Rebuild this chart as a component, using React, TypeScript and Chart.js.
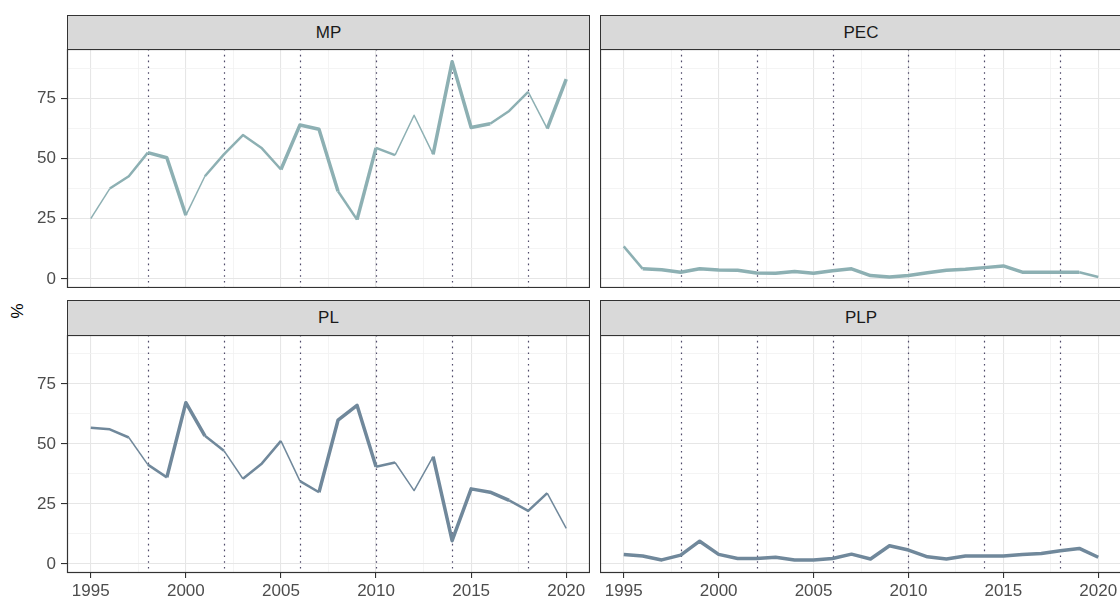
import React, { useEffect, useRef } from "react";
import { Chart, registerables } from "chart.js";

Chart.register(...registerables);

// ---------------- data ----------------
const years = [1995, 1996, 1997, 1998, 1999, 2000, 2001, 2002, 2003, 2004, 2005, 2006, 2007, 2008, 2009, 2010, 2011, 2012, 2013, 2014, 2015, 2016, 2017, 2018, 2019, 2020];

const mpValues = [25.0, 37.5, 42.6, 52.4, 50.3, 26.4, 42.6, 51.7, 59.7, 54.2, 45.4, 63.9, 62.1, 36.4, 24.6, 54.4, 51.4, 67.9, 51.7, 90.1, 62.8, 64.4, 69.7, 77.6, 62.4, 82.9];
const pecValues = [13.5, 4.2, 3.8, 2.8, 4.2, 3.7, 3.6, 2.5, 2.4, 3.1, 2.4, 3.4, 4.2, 1.4, 0.8, 1.4, 2.6, 3.6, 4.0, 4.7, 5.4, 2.8, 2.8, 2.8, 2.8, 0.8];
const plValues = [56.8, 56.1, 52.7, 41.4, 36.1, 67.2, 53.4, 47.2, 35.5, 41.9, 51.3, 34.5, 29.9, 59.9, 66.1, 40.5, 42.3, 30.6, 44.7, 9.7, 31.3, 29.9, 26.5, 22.1, 29.5, 14.8];
const plpValues = [4.0, 3.3, 1.7, 3.7, 9.5, 4.0, 2.3, 2.3, 2.8, 1.7, 1.7, 2.3, 4.1, 2.1, 7.6, 5.8, 3.0, 2.1, 3.3, 3.3, 3.3, 4.0, 4.4, 5.5, 6.5, 2.8];

// size aesthetic (1 = small, 2 = medium, 3 = large), one per starting year of a segment
const mpWeight = [1, 2, 2, 3, 3, 1, 2, 2, 2, 2, 3, 3, 3, 2, 3, 2, 1, 1, 3, 3, 3, 2, 2, 1, 3, 3];
const pecWeight = [2, 3, 3, 3, 3, 3, 3, 3, 3, 3, 3, 3, 3, 3, 3, 3, 3, 3, 3, 3, 3, 3, 3, 3, 2, 2];
const plWeight = [2, 2, 1, 2, 3, 3, 2, 1, 2, 2, 1, 2, 3, 3, 3, 2, 1, 1, 3, 3, 3, 3, 2, 2, 1, 1];
const plpWeight = [3, 3, 3, 3, 3, 3, 3, 3, 3, 3, 3, 3, 3, 3, 3, 3, 3, 3, 3, 3, 3, 3, 3, 3, 3, 3];

const electionYears = [1998, 2002, 2006, 2010, 2014, 2018];

const yTickValues = [0, 25, 50, 75];
const yTickLabels = ["0", "25", "50", "75"];
const xTickValues = [1995, 2000, 2005, 2010, 2015, 2020];
const xTickLabels = ["1995", "2000", "2005", "2010", "2015", "2020"];

const panelNames = ["MP", "PEC", "PL", "PLP"];
const yAxisTitle = "%";

// ---------------- styling ----------------
const FONT = '"Liberation Sans", Arial, sans-serif';
const X_MIN = 1993.75;
const X_MAX = 2021.25;
const Y_MIN = -3.75;
const Y_MAX = 95.4;
const COLOR_LIGHT = "#8DB0B3";
const COLOR_DARK = "#70889B";
const widthMap: Record<number, number> = { 1: 1.5, 2: 2.5, 3: 3.5 };

function withMinor(major: number[], lo: number, hi: number) {
  const step = major[1] - major[0];
  const out: { value: number; major: boolean }[] = [];
  const first = major[0] - step / 2;
  for (let v = first; v <= hi + 1e-9; v += step / 2) {
    if (v < lo - 1e-9) continue;
    const isMajor = major.some((m) => Math.abs(m - v) < 1e-6);
    out.push({ value: v, major: isMajor });
  }
  return out;
}

const yAll = withMinor(yTickValues, Y_MIN, Y_MAX);
const xAll = withMinor(xTickValues, X_MIN, X_MAX);

function isMajorVal(list: number[], v: number) {
  return list.some((m) => Math.abs(m - v) < 1e-6);
}

const framePlugin = {
  id: "frame",
  beforeDatasetsDraw(chart: any) {
    const { ctx, chartArea, scales } = chart;
    ctx.save();
    ctx.beginPath();
    ctx.rect(chartArea.left, chartArea.top, chartArea.right - chartArea.left, chartArea.bottom - chartArea.top);
    ctx.clip();
    ctx.strokeStyle = "#4F4A6A";
    ctx.lineWidth = 1.2;
    ctx.setLineDash([1.6, 4.2]);
    electionYears.forEach((yr) => {
      const px = Math.round(scales.x.getPixelForValue(yr)) + 0.5;
      ctx.beginPath();
      ctx.moveTo(px, chartArea.top);
      ctx.lineTo(px, chartArea.bottom);
      ctx.stroke();
    });
    ctx.restore();
  },
  afterDraw(chart: any) {
    const { ctx, chartArea } = chart;
    ctx.save();
    ctx.strokeStyle = "#333333";
    ctx.lineWidth = 1.2;
    ctx.strokeRect(chartArea.left + 0.5, chartArea.top + 0.5, chartArea.right - chartArea.left - 1, chartArea.bottom - chartArea.top - 1);
    ctx.restore();
  },
};

type PanelProps = {
  values: number[];
  weights: number[];
  color: string;
  showY: boolean;
  showX: boolean;
  left: number;
  top: number;
  width: number;
  height: number;
};

function zeroPad(s: any) {
  s.paddingTop = 0;
  s.paddingBottom = 0;
  s.paddingLeft = 0;
  s.paddingRight = 0;
}

function Panel({ values, weights, color, showY, showX, left, top, width, height }: PanelProps) {
  const ref = useRef<HTMLCanvasElement>(null);
  useEffect(() => {
    if (!ref.current) return;
    const chart = new Chart(ref.current, {
      type: "line",
      data: {
        datasets: [
          {
            data: years.map((yr, i) => ({ x: yr, y: values[i] })),
            borderColor: color,
            backgroundColor: color,
            borderWidth: 2.5,
            pointRadius: 0,
            borderJoinStyle: "round",
            borderCapStyle: "butt",
            tension: 0,
            segment: {
              borderWidth: (ctx: any) => widthMap[weights[ctx.p0DataIndex]] ?? 2.5,
            },
          } as any,
        ],
      },
      options: {
        animation: false,
        responsive: false,
        maintainAspectRatio: false,
        events: [],
        layout: { padding: 0 },
        plugins: { legend: { display: false }, tooltip: { enabled: false }, title: { display: false } },
        scales: {
          x: {
            type: "linear",
            min: X_MIN,
            max: X_MAX,
            afterBuildTicks: (s: any) => {
              s.ticks = xAll.map((t) => ({ value: t.value }));
            },
            afterFit: (s: any) => {
              s.height = showX ? 28 : 0;
              zeroPad(s);
            },
            ticks: {
              display: showX,
              autoSkip: false,
              maxRotation: 0,
              minRotation: 0,
              padding: 3,
              color: "#4D4D4D",
              font: { family: FONT, size: 17 },
              callback: (v: any) => {
                const i = xTickValues.findIndex((m) => Math.abs(m - Number(v)) < 1e-6);
                return i >= 0 ? xTickLabels[i] : "";
              },
            },
            grid: {
              drawTicks: showX,
              tickLength: 5,
              color: (c: any) => (isMajorVal(xTickValues, c.tick?.value) ? "#E6E6E6" : "#F1F1F1"),
              lineWidth: (c: any) => (isMajorVal(xTickValues, c.tick?.value) ? 1.1 : 0.8),
              tickColor: (c: any) => (isMajorVal(xTickValues, c.tick?.value) ? "#333333" : "rgba(0,0,0,0)"),
              tickWidth: 1.1,
            },
            border: { display: false },
          },
          y: {
            type: "linear",
            min: Y_MIN,
            max: Y_MAX,
            afterBuildTicks: (s: any) => {
              s.ticks = yAll.map((t) => ({ value: t.value }));
            },
            afterFit: (s: any) => {
              s.width = showY ? 67 : 0;
              zeroPad(s);
            },
            ticks: {
              display: showY,
              autoSkip: false,
              padding: 5,
              color: "#4D4D4D",
              font: { family: FONT, size: 17 },
              callback: (v: any) => {
                const i = yTickValues.findIndex((m) => Math.abs(m - Number(v)) < 1e-6);
                return i >= 0 ? yTickLabels[i] : "";
              },
            },
            grid: {
              drawTicks: showY,
              tickLength: 6,
              color: (c: any) => (isMajorVal(yTickValues, c.tick?.value) ? "#E6E6E6" : "#F1F1F1"),
              lineWidth: (c: any) => (isMajorVal(yTickValues, c.tick?.value) ? 1.1 : 0.8),
              tickColor: (c: any) => (isMajorVal(yTickValues, c.tick?.value) ? "#333333" : "rgba(0,0,0,0)"),
              tickWidth: 1.1,
            },
            border: { display: false },
          },
        },
      } as any,
      plugins: [framePlugin],
    });
    return () => chart.destroy();
  }, []);
  return (
    <canvas
      ref={ref}
      width={width}
      height={height}
      style={{ position: "absolute", left, top, width, height, display: "block" }}
    />
  );
}

function Strip({ label, left, top, width, height }: { label: string; left: number; top: number; width: number; height: number }) {
  return (
    <div
      style={{
        position: "absolute",
        left,
        top,
        width,
        height,
        boxSizing: "border-box",
        border: "1.2px solid #333333",
        background: "#D9D9D9",
        color: "#1A1A1A",
        fontFamily: FONT,
        fontSize: 17,
        lineHeight: `${height - 2}px`,
        textAlign: "center",
      }}
    >
      {label}
    </div>
  );
}

export default function App() {
  const L = { left: 0, width: 590 };
  const R = { left: 600, width: 522 };
  return (
    <div
      style={{
        position: "fixed",
        left: 0,
        top: 0,
        width: 1120,
        height: 601,
        overflow: "hidden",
        background: "#FFFFFF",
      }}
    >
      <Strip label={panelNames[0]} left={67} top={15} width={523} height={35} />
      <Strip label={panelNames[1]} left={600} top={15} width={522} height={35} />
      <Strip label={panelNames[2]} left={67} top={300} width={523} height={36} />
      <Strip label={panelNames[3]} left={600} top={300} width={522} height={36} />

      <Panel values={mpValues} weights={mpWeight} color={COLOR_LIGHT} showY={true} showX={false} left={L.left} top={49} width={L.width} height={239} />
      <Panel values={pecValues} weights={pecWeight} color={COLOR_LIGHT} showY={false} showX={false} left={R.left} top={49} width={R.width} height={239} />
      <Panel values={plValues} weights={plWeight} color={COLOR_DARK} showY={true} showX={true} left={L.left} top={335} width={L.width} height={266} />
      <Panel values={plpValues} weights={plpWeight} color={COLOR_DARK} showY={false} showX={true} left={R.left} top={335} width={R.width} height={266} />

      <div
        style={{
          position: "absolute",
          left: 18,
          top: 311,
          transform: "translate(-50%, -50%) rotate(-90deg)",
          fontFamily: FONT,
          fontSize: 17,
          color: "#000000",
          whiteSpace: "nowrap",
        }}
      >
        {yAxisTitle}
      </div>
    </div>
  );
}
